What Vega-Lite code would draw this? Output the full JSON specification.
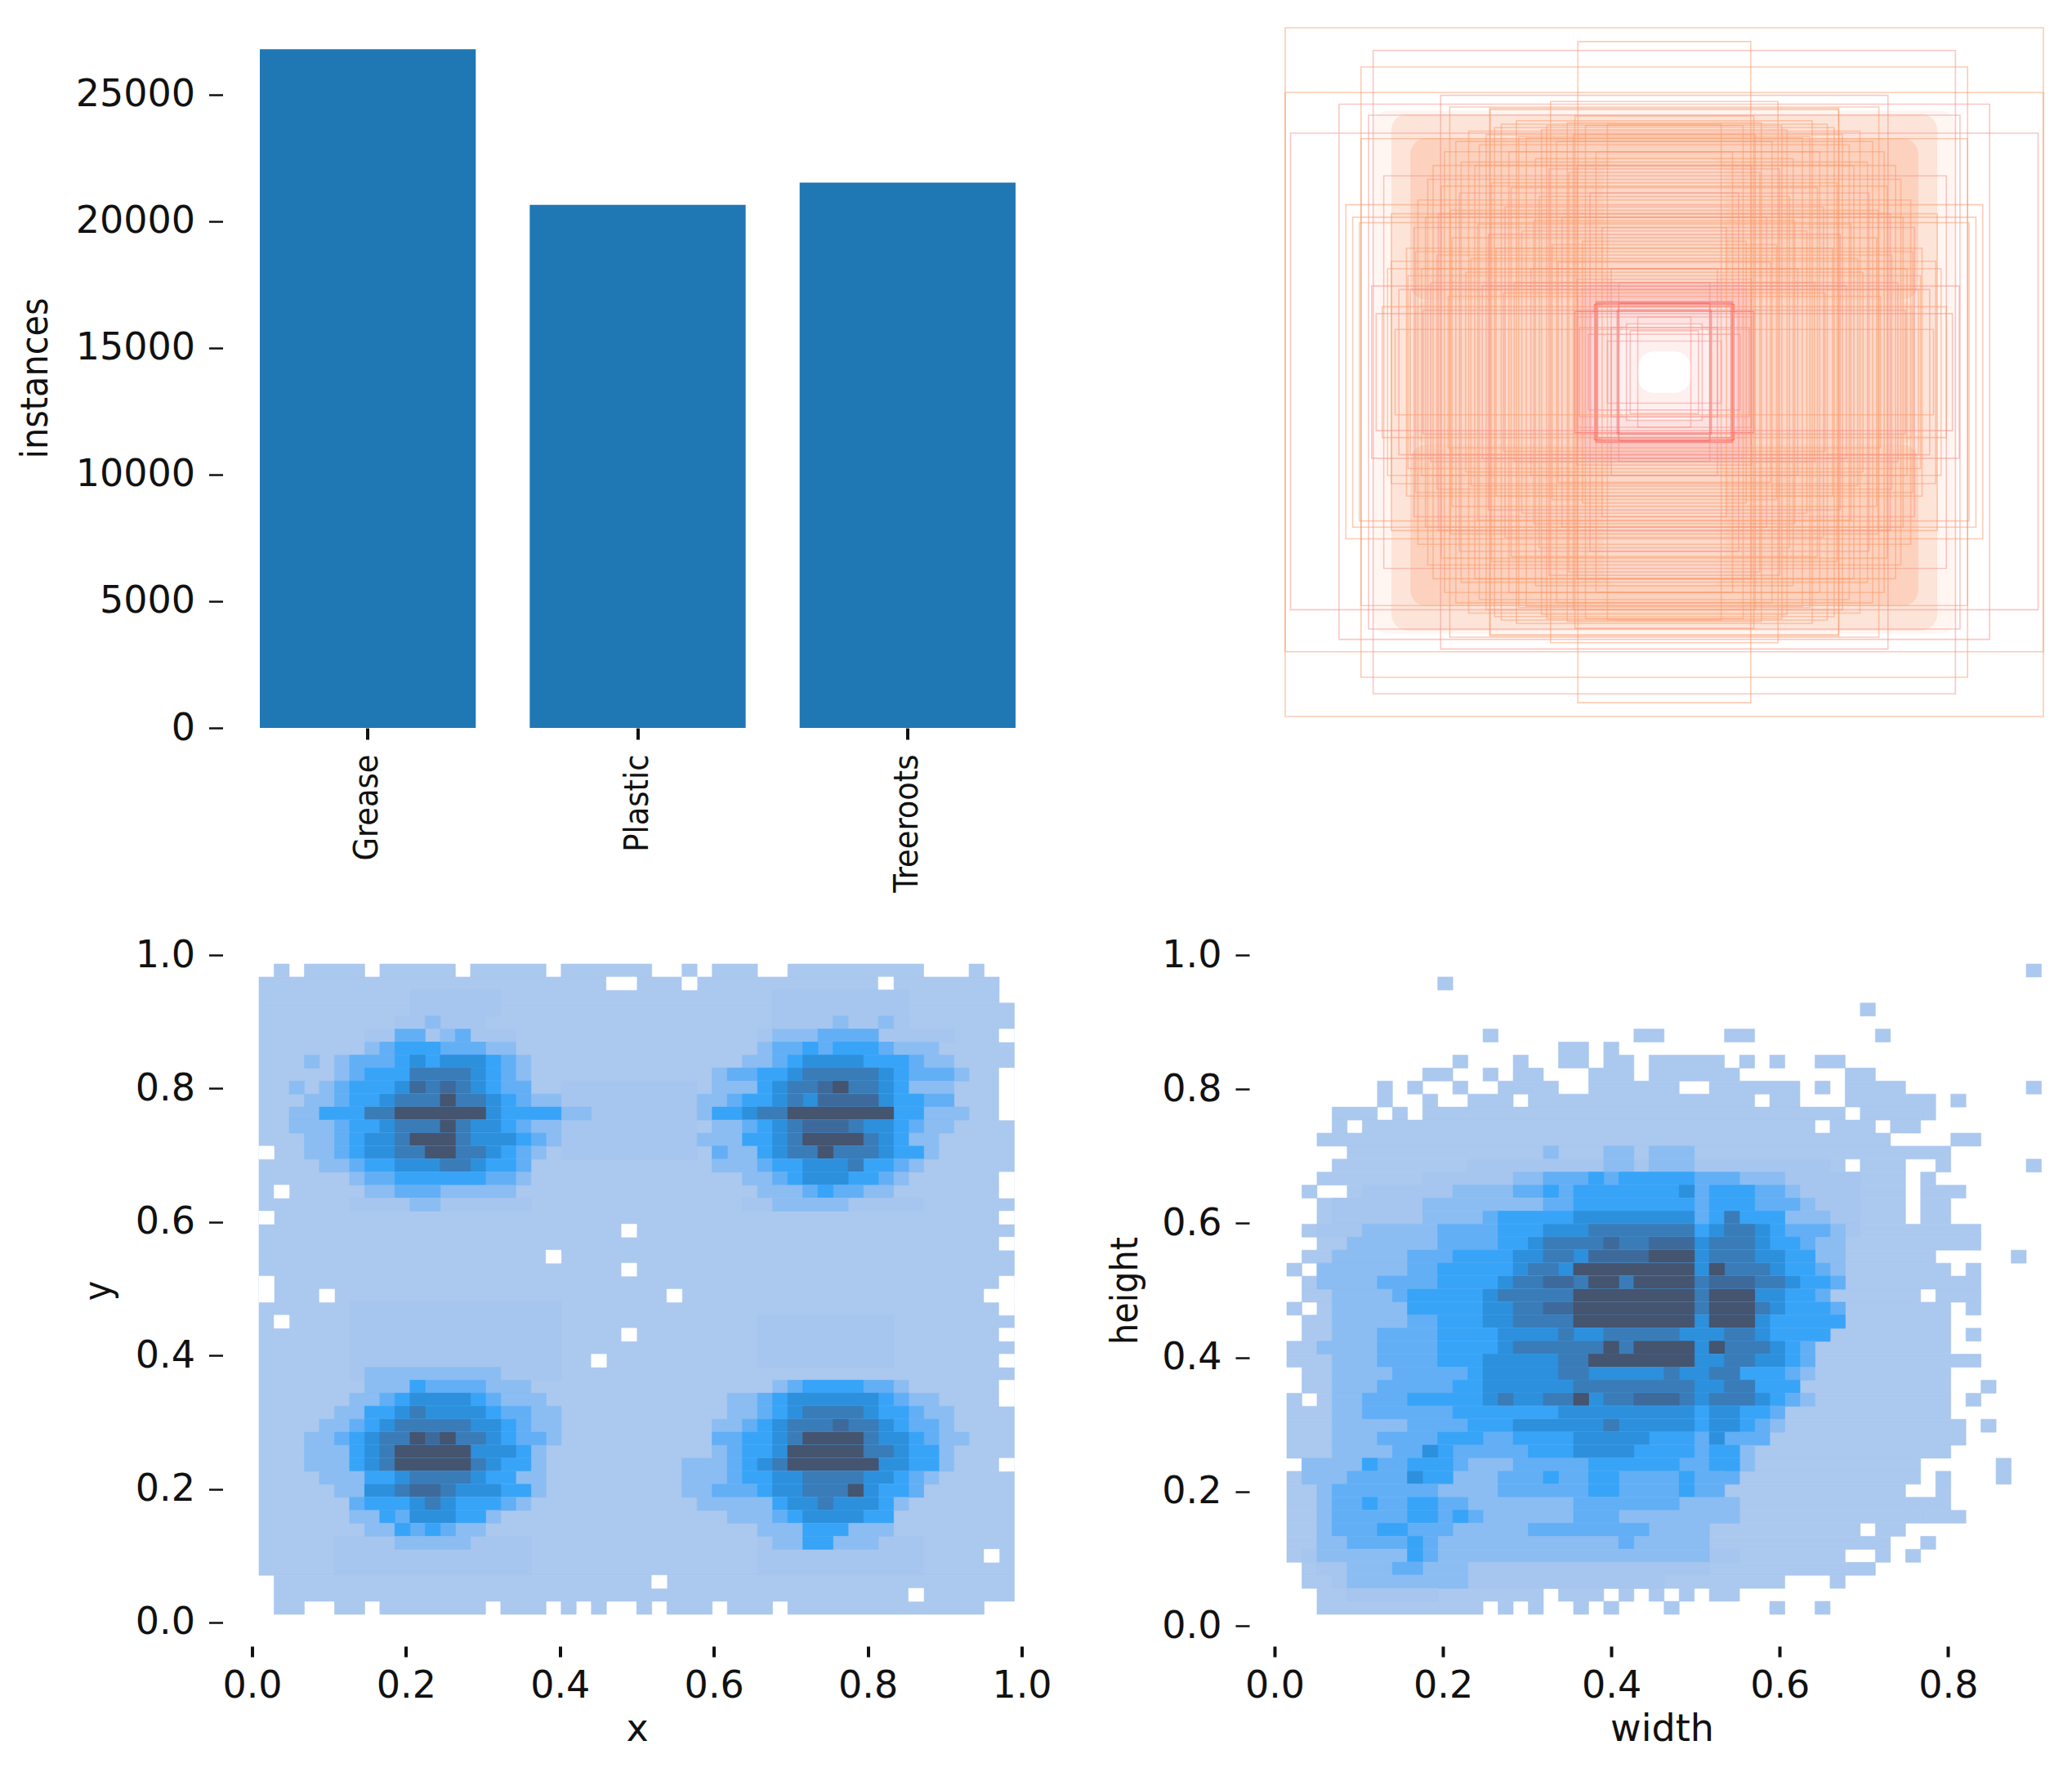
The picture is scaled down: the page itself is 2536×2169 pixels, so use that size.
{"$schema":"https://vega.github.io/schema/vega-lite/v6.json","background":"white","padding":{"left":19.5,"top":33,"right":0,"bottom":24},"columns":2,"spacing":{"row":278,"column":309.5},"bounds":"flush","config":{"view":{"stroke":null},"axis":{"grid":false,"domain":false,"tickColor":"#111","labelColor":"#111","titleColor":"#111","labelFont":"DejaVu Sans","labelFontSize":46,"titleFontWeight":"normal","labelFlush":false,"labelOverlap":false}},
"datasets":{"xy":[
{"i":0,"e":50,"j":3,"k":47,"c":1},{"i":0,"e":49,"j":1,"k":3,"c":1},{"i":1,"e":50,"j":47,"k":49,"c":1},
{"i":1,"e":2,"j":0,"k":1,"c":1},{"i":3,"e":7,"j":0,"k":1,"c":1},{"i":8,"e":13,"j":0,"k":1,"c":1},{"i":14,"e":19,"j":0,"k":1,"c":1},{"i":20,"e":26,"j":0,"k":1,"c":1},{"i":28,"e":29,"j":0,"k":1,"c":1},{"i":30,"e":33,"j":0,"k":1,"c":1},{"i":35,"e":44,"j":0,"k":1,"c":1},{"i":47,"e":48,"j":0,"k":1,"c":1},
{"i":1,"e":3,"j":49,"k":50,"c":1},{"i":5,"e":7,"j":49,"k":50,"c":1},{"i":8,"e":15,"j":49,"k":50,"c":1},{"i":16,"e":19,"j":49,"k":50,"c":1},{"i":20,"e":21,"j":49,"k":50,"c":1},{"i":22,"e":23,"j":49,"k":50,"c":1},{"i":25,"e":26,"j":49,"k":50,"c":1},{"i":27,"e":30,"j":49,"k":50,"c":1},{"i":31,"e":34,"j":49,"k":50,"c":1},{"i":35,"e":48,"j":49,"k":50,"c":1},
{"i":23,"e":25,"j":1,"k":2,"c":0},{"i":28,"e":29,"j":1,"k":2,"c":0},{"i":41,"e":42,"j":1,"k":2,"c":0},{"i":49,"e":50,"j":5,"k":6,"c":0},{"i":49,"e":50,"j":8,"k":12,"c":0},{"i":0,"e":1,"j":14,"k":15,"c":0},{"i":49,"e":50,"j":16,"k":18,"c":0},{"i":1,"e":2,"j":17,"k":18,"c":0},{"i":0,"e":1,"j":19,"k":20,"c":0},{"i":49,"e":50,"j":19,"k":20,"c":0},{"i":24,"e":25,"j":20,"k":21,"c":0},{"i":49,"e":50,"j":21,"k":22,"c":0},{"i":19,"e":20,"j":22,"k":23,"c":0},{"i":24,"e":25,"j":23,"k":24,"c":0},{"i":0,"e":1,"j":24,"k":26,"c":0},{"i":49,"e":50,"j":24,"k":25,"c":0},{"i":48,"e":50,"j":25,"k":26,"c":0},{"i":4,"e":5,"j":25,"k":26,"c":0},{"i":27,"e":28,"j":25,"k":26,"c":0},{"i":49,"e":50,"j":26,"k":27,"c":0},{"i":1,"e":2,"j":27,"k":28,"c":0},{"i":24,"e":25,"j":28,"k":29,"c":0},{"i":49,"e":50,"j":28,"k":29,"c":0},{"i":22,"e":23,"j":30,"k":31,"c":0},{"i":49,"e":50,"j":30,"k":31,"c":0},{"i":49,"e":50,"j":32,"k":34,"c":0},{"i":49,"e":50,"j":38,"k":39,"c":0},{"i":48,"e":49,"j":45,"k":46,"c":0},{"i":26,"e":27,"j":47,"k":48,"c":0},{"i":43,"e":44,"j":48,"k":49,"c":0},
{"i":10,"e":16,"j":2,"k":4,"c":2},{"i":34,"e":43,"j":2,"k":5,"c":2},{"i":6,"e":20,"j":26,"k":32,"c":2},{"i":33,"e":42,"j":27,"k":31,"c":2},{"i":5,"e":18,"j":44,"k":47,"c":2},{"i":33,"e":44,"j":44,"k":47,"c":2},{"i":20,"e":29,"j":9,"k":15,"c":2},{"i":9,"e":15,"j":4,"k":5,"c":2},{"i":11,"e":12,"j":4,"k":5,"c":3},
{"i":7,"e":17,"j":5,"k":6,"c":2},{"i":9,"e":11,"j":5,"k":6,"c":4},{"i":12,"e":13,"j":5,"k":6,"c":3},{"i":13,"e":14,"j":5,"k":6,"c":4},
{"i":7,"e":17,"j":6,"k":7,"c":3},{"i":8,"e":15,"j":6,"k":7,"c":4},{"i":9,"e":12,"j":6,"k":7,"c":5},
{"i":3,"e":4,"j":7,"k":8,"c":3},{"i":5,"e":18,"j":7,"k":8,"c":3},{"i":6,"e":17,"j":7,"k":8,"c":4},{"i":9,"e":16,"j":7,"k":8,"c":5},{"i":10,"e":11,"j":7,"k":8,"c":6},{"i":12,"e":15,"j":7,"k":8,"c":6},
{"i":5,"e":18,"j":8,"k":9,"c":3},{"i":6,"e":17,"j":8,"k":9,"c":4},{"i":7,"e":16,"j":8,"k":9,"c":5},{"i":10,"e":15,"j":8,"k":9,"c":6},{"i":10,"e":14,"j":8,"k":9,"c":7},
{"i":2,"e":3,"j":9,"k":10,"c":3},{"i":4,"e":18,"j":9,"k":10,"c":3},{"i":5,"e":18,"j":9,"k":10,"c":4},{"i":6,"e":16,"j":9,"k":10,"c":5},{"i":9,"e":15,"j":9,"k":10,"c":6},{"i":10,"e":14,"j":9,"k":10,"c":7},{"i":10,"e":11,"j":9,"k":10,"c":8},{"i":12,"e":13,"j":9,"k":10,"c":8},
{"i":3,"e":20,"j":10,"k":11,"c":3},{"i":5,"e":18,"j":10,"k":11,"c":4},{"i":6,"e":17,"j":10,"k":11,"c":5},{"i":8,"e":16,"j":10,"k":11,"c":6},{"i":9,"e":15,"j":10,"k":11,"c":7},{"i":12,"e":13,"j":10,"k":11,"c":9},
{"i":2,"e":22,"j":11,"k":12,"c":3},{"i":4,"e":20,"j":11,"k":12,"c":5},{"i":15,"e":16,"j":11,"k":12,"c":6},{"i":7,"e":15,"j":11,"k":12,"c":7},{"i":9,"e":15,"j":11,"k":12,"c":9},
{"i":2,"e":20,"j":12,"k":13,"c":3},{"i":5,"e":18,"j":12,"k":13,"c":4},{"i":6,"e":17,"j":12,"k":13,"c":5},{"i":8,"e":16,"j":12,"k":13,"c":6},{"i":9,"e":14,"j":12,"k":13,"c":7},{"i":12,"e":13,"j":12,"k":13,"c":9},
{"i":3,"e":20,"j":13,"k":14,"c":3},{"i":5,"e":19,"j":13,"k":14,"c":4},{"i":6,"e":18,"j":13,"k":14,"c":5},{"i":7,"e":17,"j":13,"k":14,"c":6},{"i":9,"e":14,"j":13,"k":14,"c":7},{"i":10,"e":13,"j":13,"k":14,"c":9},
{"i":3,"e":19,"j":14,"k":15,"c":3},{"i":5,"e":18,"j":14,"k":15,"c":4},{"i":6,"e":17,"j":14,"k":15,"c":5},{"i":7,"e":16,"j":14,"k":15,"c":6},{"i":9,"e":15,"j":14,"k":15,"c":7},{"i":11,"e":13,"j":14,"k":15,"c":9},
{"i":4,"e":18,"j":15,"k":16,"c":3},{"i":6,"e":18,"j":15,"k":16,"c":4},{"i":7,"e":17,"j":15,"k":16,"c":5},{"i":9,"e":15,"j":15,"k":16,"c":6},{"i":12,"e":14,"j":15,"k":16,"c":7},
{"i":6,"e":18,"j":16,"k":17,"c":3},{"i":7,"e":17,"j":16,"k":17,"c":4},{"i":9,"e":15,"j":16,"k":17,"c":5},
{"i":7,"e":17,"j":17,"k":18,"c":3},{"i":9,"e":12,"j":17,"k":18,"c":4},{"i":6,"e":18,"j":18,"k":19,"c":2},{"i":10,"e":12,"j":18,"k":19,"c":3},
{"i":34,"e":43,"j":4,"k":5,"c":2},{"i":38,"e":39,"j":4,"k":5,"c":3},{"i":41,"e":42,"j":4,"k":5,"c":3},
{"i":33,"e":46,"j":5,"k":6,"c":2},{"i":34,"e":41,"j":5,"k":6,"c":3},{"i":37,"e":41,"j":5,"k":6,"c":4},
{"i":33,"e":45,"j":6,"k":7,"c":3},{"i":34,"e":42,"j":6,"k":7,"c":4},{"i":36,"e":37,"j":6,"k":7,"c":5},{"i":38,"e":41,"j":6,"k":7,"c":5},
{"i":32,"e":46,"j":7,"k":8,"c":3},{"i":34,"e":44,"j":7,"k":8,"c":4},{"i":35,"e":43,"j":7,"k":8,"c":5},{"i":36,"e":40,"j":7,"k":8,"c":6},
{"i":30,"e":47,"j":8,"k":9,"c":3},{"i":31,"e":46,"j":8,"k":9,"c":4},{"i":33,"e":43,"j":8,"k":9,"c":5},{"i":35,"e":42,"j":8,"k":9,"c":6},{"i":36,"e":41,"j":8,"k":9,"c":7},
{"i":30,"e":46,"j":9,"k":10,"c":3},{"i":33,"e":43,"j":9,"k":10,"c":5},{"i":34,"e":42,"j":9,"k":10,"c":6},{"i":35,"e":41,"j":9,"k":10,"c":7},{"i":37,"e":38,"j":9,"k":10,"c":8},{"i":38,"e":39,"j":9,"k":10,"c":9},
{"i":29,"e":46,"j":10,"k":11,"c":3},{"i":31,"e":46,"j":10,"k":11,"c":4},{"i":32,"e":44,"j":10,"k":11,"c":5},{"i":34,"e":42,"j":10,"k":11,"c":6},{"i":35,"e":36,"j":10,"k":11,"c":7},{"i":37,"e":41,"j":10,"k":11,"c":8},
{"i":29,"e":47,"j":11,"k":12,"c":3},{"i":30,"e":44,"j":11,"k":12,"c":5},{"i":32,"e":42,"j":11,"k":12,"c":6},{"i":33,"e":42,"j":11,"k":12,"c":7},{"i":35,"e":42,"j":11,"k":12,"c":9},
{"i":30,"e":46,"j":12,"k":13,"c":3},{"i":32,"e":44,"j":12,"k":13,"c":4},{"i":33,"e":43,"j":12,"k":13,"c":5},{"i":34,"e":42,"j":12,"k":13,"c":6},{"i":35,"e":40,"j":12,"k":13,"c":7},{"i":36,"e":39,"j":12,"k":13,"c":8},
{"i":29,"e":45,"j":13,"k":14,"c":3},{"i":32,"e":43,"j":13,"k":14,"c":5},{"i":34,"e":42,"j":13,"k":14,"c":6},{"i":35,"e":41,"j":13,"k":14,"c":7},{"i":36,"e":40,"j":13,"k":14,"c":9},
{"i":30,"e":45,"j":14,"k":15,"c":3},{"i":30,"e":31,"j":14,"k":15,"c":4},{"i":33,"e":44,"j":14,"k":15,"c":5},{"i":34,"e":42,"j":14,"k":15,"c":6},{"i":35,"e":41,"j":14,"k":15,"c":7},{"i":37,"e":38,"j":14,"k":15,"c":9},
{"i":30,"e":44,"j":15,"k":16,"c":3},{"i":33,"e":43,"j":15,"k":16,"c":4},{"i":34,"e":42,"j":15,"k":16,"c":5},{"i":36,"e":40,"j":15,"k":16,"c":6},{"i":39,"e":40,"j":15,"k":16,"c":7},
{"i":32,"e":43,"j":16,"k":17,"c":3},{"i":34,"e":42,"j":16,"k":17,"c":4},{"i":35,"e":41,"j":16,"k":17,"c":5},{"i":36,"e":39,"j":16,"k":17,"c":6},
{"i":33,"e":42,"j":17,"k":18,"c":3},{"i":36,"e":40,"j":17,"k":18,"c":4},{"i":37,"e":38,"j":17,"k":18,"c":5},{"i":32,"e":44,"j":18,"k":19,"c":2},{"i":34,"e":39,"j":18,"k":19,"c":3},
{"i":7,"e":16,"j":31,"k":32,"c":3},
{"i":7,"e":18,"j":32,"k":33,"c":3},{"i":10,"e":15,"j":32,"k":33,"c":4},{"i":10,"e":11,"j":32,"k":33,"c":5},
{"i":6,"e":19,"j":33,"k":34,"c":3},{"i":8,"e":16,"j":33,"k":34,"c":4},{"i":9,"e":15,"j":33,"k":34,"c":5},{"i":10,"e":14,"j":33,"k":34,"c":6},
{"i":5,"e":20,"j":34,"k":35,"c":3},{"i":7,"e":18,"j":34,"k":35,"c":4},{"i":7,"e":16,"j":34,"k":35,"c":5},{"i":9,"e":15,"j":34,"k":35,"c":6},{"i":10,"e":11,"j":34,"k":35,"c":7},
{"i":4,"e":20,"j":35,"k":36,"c":3},{"i":6,"e":18,"j":35,"k":36,"c":4},{"i":7,"e":17,"j":35,"k":36,"c":5},{"i":8,"e":16,"j":35,"k":36,"c":6},{"i":9,"e":14,"j":35,"k":36,"c":7},
{"i":3,"e":20,"j":36,"k":37,"c":3},{"i":5,"e":19,"j":36,"k":37,"c":4},{"i":6,"e":17,"j":36,"k":37,"c":5},{"i":7,"e":16,"j":36,"k":37,"c":6},{"i":8,"e":15,"j":36,"k":37,"c":7},{"i":10,"e":11,"j":36,"k":37,"c":9},{"i":11,"e":12,"j":36,"k":37,"c":8},{"i":12,"e":13,"j":36,"k":37,"c":9},
{"i":3,"e":19,"j":37,"k":38,"c":3},{"i":6,"e":18,"j":37,"k":38,"c":5},{"i":7,"e":17,"j":37,"k":38,"c":6},{"i":8,"e":14,"j":37,"k":38,"c":7},{"i":9,"e":14,"j":37,"k":38,"c":9},
{"i":3,"e":19,"j":38,"k":39,"c":3},{"i":6,"e":18,"j":38,"k":39,"c":5},{"i":7,"e":16,"j":38,"k":39,"c":6},{"i":8,"e":15,"j":38,"k":39,"c":7},{"i":9,"e":14,"j":38,"k":39,"c":9},
{"i":4,"e":19,"j":39,"k":40,"c":3},{"i":7,"e":17,"j":39,"k":40,"c":5},{"i":9,"e":15,"j":39,"k":40,"c":6},{"i":10,"e":14,"j":39,"k":40,"c":7},
{"i":5,"e":19,"j":40,"k":41,"c":3},{"i":7,"e":18,"j":40,"k":41,"c":5},{"i":7,"e":16,"j":40,"k":41,"c":6},{"i":9,"e":13,"j":40,"k":41,"c":7},{"i":10,"e":12,"j":40,"k":41,"c":8},
{"i":6,"e":18,"j":41,"k":42,"c":3},{"i":6,"e":17,"j":41,"k":42,"c":4},{"i":7,"e":16,"j":41,"k":42,"c":5},{"i":10,"e":13,"j":41,"k":42,"c":6},{"i":11,"e":12,"j":41,"k":42,"c":7},
{"i":6,"e":16,"j":42,"k":43,"c":3},{"i":8,"e":15,"j":42,"k":43,"c":4},{"i":8,"e":9,"j":42,"k":43,"c":5},{"i":10,"e":15,"j":42,"k":43,"c":5},{"i":10,"e":13,"j":42,"k":43,"c":6},
{"i":7,"e":15,"j":43,"k":44,"c":3},{"i":9,"e":13,"j":43,"k":44,"c":4},{"i":9,"e":10,"j":43,"k":44,"c":5},{"i":11,"e":12,"j":43,"k":44,"c":5},{"i":9,"e":14,"j":44,"k":45,"c":3},
{"i":34,"e":43,"j":32,"k":33,"c":3},{"i":35,"e":42,"j":32,"k":33,"c":4},{"i":36,"e":40,"j":32,"k":33,"c":5},
{"i":31,"e":45,"j":33,"k":34,"c":3},{"i":33,"e":43,"j":33,"k":34,"c":4},{"i":34,"e":42,"j":33,"k":34,"c":5},{"i":35,"e":41,"j":33,"k":34,"c":6},
{"i":31,"e":46,"j":34,"k":35,"c":3},{"i":33,"e":44,"j":34,"k":35,"c":4},{"i":34,"e":43,"j":34,"k":35,"c":5},{"i":35,"e":41,"j":34,"k":35,"c":6},{"i":36,"e":40,"j":34,"k":35,"c":7},
{"i":30,"e":46,"j":35,"k":36,"c":3},{"i":32,"e":45,"j":35,"k":36,"c":4},{"i":33,"e":43,"j":35,"k":36,"c":5},{"i":34,"e":42,"j":35,"k":36,"c":6},{"i":35,"e":41,"j":35,"k":36,"c":7},{"i":38,"e":39,"j":35,"k":36,"c":8},
{"i":30,"e":47,"j":36,"k":37,"c":3},{"i":30,"e":45,"j":36,"k":37,"c":4},{"i":32,"e":44,"j":36,"k":37,"c":5},{"i":34,"e":43,"j":36,"k":37,"c":6},{"i":35,"e":41,"j":36,"k":37,"c":7},{"i":36,"e":40,"j":36,"k":37,"c":9},
{"i":30,"e":46,"j":37,"k":38,"c":3},{"i":31,"e":45,"j":37,"k":38,"c":4},{"i":32,"e":45,"j":37,"k":38,"c":5},{"i":34,"e":43,"j":37,"k":38,"c":6},{"i":35,"e":42,"j":37,"k":38,"c":7},{"i":35,"e":40,"j":37,"k":38,"c":9},
{"i":28,"e":46,"j":38,"k":39,"c":3},{"i":31,"e":45,"j":38,"k":39,"c":4},{"i":32,"e":45,"j":38,"k":39,"c":5},{"i":33,"e":43,"j":38,"k":39,"c":6},{"i":34,"e":41,"j":38,"k":39,"c":7},{"i":35,"e":41,"j":38,"k":39,"c":9},
{"i":28,"e":45,"j":39,"k":40,"c":3},{"i":31,"e":44,"j":39,"k":40,"c":4},{"i":32,"e":43,"j":39,"k":40,"c":5},{"i":34,"e":42,"j":39,"k":40,"c":6},{"i":36,"e":40,"j":39,"k":40,"c":7},
{"i":28,"e":44,"j":40,"k":41,"c":3},{"i":30,"e":44,"j":40,"k":41,"c":4},{"i":33,"e":43,"j":40,"k":41,"c":5},{"i":34,"e":41,"j":40,"k":41,"c":6},{"i":36,"e":40,"j":40,"k":41,"c":7},{"i":39,"e":40,"j":40,"k":41,"c":9},
{"i":29,"e":43,"j":41,"k":42,"c":3},{"i":34,"e":42,"j":41,"k":42,"c":5},{"i":35,"e":41,"j":41,"k":42,"c":6},{"i":37,"e":38,"j":41,"k":42,"c":7},
{"i":31,"e":42,"j":42,"k":43,"c":3},{"i":34,"e":41,"j":42,"k":43,"c":4},{"i":35,"e":42,"j":42,"k":43,"c":5},{"i":36,"e":40,"j":42,"k":43,"c":6},
{"i":33,"e":42,"j":43,"k":44,"c":3},{"i":36,"e":39,"j":43,"k":44,"c":5},{"i":34,"e":41,"j":44,"k":45,"c":3},{"i":36,"e":38,"j":44,"k":45,"c":5}
],
"wh":[
{"i":49,"e":50,"j":0,"k":1,"c":1},{"i":10,"e":11,"j":1,"k":2,"c":1},{"i":38,"e":39,"j":3,"k":4,"c":1},
{"i":13,"e":14,"j":5,"k":6,"c":1},{"i":23,"e":25,"j":5,"k":6,"c":1},{"i":29,"e":31,"j":5,"k":6,"c":1},{"i":39,"e":40,"j":5,"k":6,"c":1},
{"i":18,"e":20,"j":6,"k":8,"c":1},{"i":21,"e":22,"j":6,"k":7,"c":1},
{"i":11,"e":12,"j":7,"k":8,"c":1},{"i":15,"e":16,"j":7,"k":8,"c":1},{"i":21,"e":23,"j":7,"k":8,"c":1},{"i":24,"e":29,"j":7,"k":8,"c":1},{"i":30,"e":31,"j":7,"k":8,"c":1},{"i":32,"e":33,"j":7,"k":8,"c":1},{"i":35,"e":37,"j":7,"k":8,"c":1},
{"i":9,"e":11,"j":8,"k":9,"c":1},{"i":13,"e":14,"j":8,"k":9,"c":1},{"i":15,"e":17,"j":8,"k":9,"c":1},{"i":20,"e":23,"j":8,"k":9,"c":1},{"i":24,"e":30,"j":8,"k":9,"c":1},{"i":37,"e":39,"j":8,"k":9,"c":1},
{"i":6,"e":7,"j":9,"k":11,"c":1},{"i":8,"e":9,"j":9,"k":10,"c":1},{"i":11,"e":12,"j":9,"k":10,"c":1},{"i":14,"e":18,"j":9,"k":10,"c":1},{"i":20,"e":26,"j":9,"k":10,"c":1},{"i":28,"e":34,"j":9,"k":10,"c":1},{"i":35,"e":36,"j":9,"k":10,"c":1},{"i":37,"e":41,"j":9,"k":10,"c":1},{"i":49,"e":50,"j":9,"k":10,"c":1},
{"i":9,"e":10,"j":10,"k":11,"c":1},{"i":12,"e":15,"j":10,"k":11,"c":1},{"i":16,"e":31,"j":10,"k":11,"c":1},{"i":32,"e":34,"j":10,"k":11,"c":1},{"i":37,"e":43,"j":10,"k":11,"c":1},{"i":44,"e":45,"j":10,"k":11,"c":1},
{"i":3,"e":6,"j":11,"k":12,"c":1},{"i":7,"e":8,"j":11,"k":12,"c":1},{"i":9,"e":12,"j":11,"k":12,"c":1},{"i":12,"e":37,"j":11,"k":12,"c":1},{"i":38,"e":42,"j":11,"k":12,"c":1},{"i":42,"e":43,"j":11,"k":12,"c":1},
{"i":3,"e":4,"j":12,"k":13,"c":1},{"i":5,"e":35,"j":12,"k":13,"c":1},{"i":36,"e":39,"j":12,"k":13,"c":1},{"i":40,"e":42,"j":12,"k":13,"c":1},
{"i":2,"e":40,"j":13,"k":14,"c":1},{"i":44,"e":46,"j":13,"k":14,"c":1},{"i":4,"e":44,"j":14,"k":15,"c":1},
{"i":3,"e":37,"j":15,"k":16,"c":1},{"i":38,"e":41,"j":15,"k":16,"c":1},{"i":43,"e":44,"j":15,"k":16,"c":1},{"i":49,"e":50,"j":15,"k":16,"c":1},
{"i":2,"e":41,"j":16,"k":17,"c":1},{"i":42,"e":43,"j":16,"k":17,"c":1},
{"i":1,"e":2,"j":17,"k":18,"c":1},{"i":4,"e":41,"j":17,"k":18,"c":1},{"i":42,"e":45,"j":17,"k":18,"c":1},
{"i":2,"e":41,"j":18,"k":19,"c":1},{"i":42,"e":44,"j":18,"k":19,"c":1},{"i":2,"e":41,"j":19,"k":20,"c":1},{"i":42,"e":44,"j":19,"k":20,"c":1},
{"i":1,"e":46,"j":20,"k":21,"c":1},{"i":2,"e":45,"j":21,"k":22,"c":1},{"i":45,"e":46,"j":21,"k":22,"c":1},
{"i":1,"e":43,"j":22,"k":23,"c":1},{"i":48,"e":49,"j":22,"k":23,"c":1},
{"i":0,"e":1,"j":23,"k":24,"c":1},{"i":2,"e":44,"j":23,"k":24,"c":1},{"i":45,"e":46,"j":23,"k":24,"c":1},
{"i":1,"e":46,"j":24,"k":25,"c":1},{"i":1,"e":42,"j":25,"k":26,"c":1},{"i":43,"e":46,"j":25,"k":26,"c":1},
{"i":0,"e":1,"j":26,"k":27,"c":1},{"i":2,"e":44,"j":26,"k":27,"c":1},{"i":45,"e":46,"j":26,"k":27,"c":1},
{"i":1,"e":44,"j":27,"k":28,"c":1},{"i":1,"e":44,"j":28,"k":29,"c":1},{"i":45,"e":46,"j":28,"k":29,"c":1},
{"i":0,"e":44,"j":29,"k":30,"c":1},{"i":0,"e":46,"j":30,"k":31,"c":1},{"i":1,"e":44,"j":31,"k":32,"c":1},{"i":1,"e":44,"j":32,"k":33,"c":1},{"i":46,"e":47,"j":32,"k":33,"c":1},
{"i":0,"e":1,"j":33,"k":34,"c":1},{"i":2,"e":44,"j":33,"k":34,"c":1},{"i":45,"e":46,"j":33,"k":34,"c":1},
{"i":0,"e":44,"j":34,"k":35,"c":1},{"i":0,"e":45,"j":35,"k":37,"c":1},{"i":46,"e":47,"j":35,"k":36,"c":1},{"i":0,"e":44,"j":37,"k":38,"c":1},
{"i":1,"e":42,"j":38,"k":39,"c":1},{"i":47,"e":48,"j":38,"k":40,"c":1},{"i":0,"e":42,"j":39,"k":40,"c":1},{"i":43,"e":44,"j":39,"k":41,"c":1},
{"i":0,"e":41,"j":40,"k":41,"c":1},{"i":0,"e":41,"j":41,"k":42,"c":1},{"i":41,"e":44,"j":41,"k":42,"c":1},
{"i":0,"e":42,"j":42,"k":43,"c":1},{"i":42,"e":45,"j":42,"k":43,"c":1},{"i":0,"e":38,"j":43,"k":44,"c":1},{"i":39,"e":41,"j":43,"k":44,"c":1},
{"i":0,"e":40,"j":44,"k":45,"c":1},{"i":42,"e":43,"j":44,"k":45,"c":1},{"i":0,"e":37,"j":45,"k":46,"c":1},{"i":39,"e":40,"j":45,"k":46,"c":1},{"i":41,"e":42,"j":45,"k":46,"c":1},
{"i":1,"e":39,"j":46,"k":47,"c":1},{"i":1,"e":33,"j":47,"k":48,"c":1},{"i":36,"e":37,"j":47,"k":48,"c":1},
{"i":2,"e":17,"j":48,"k":49,"c":1},{"i":18,"e":21,"j":48,"k":49,"c":1},{"i":22,"e":23,"j":48,"k":49,"c":1},{"i":24,"e":25,"j":48,"k":49,"c":1},{"i":26,"e":27,"j":48,"k":49,"c":1},{"i":28,"e":30,"j":48,"k":49,"c":1},
{"i":2,"e":13,"j":49,"k":50,"c":1},{"i":14,"e":15,"j":49,"k":50,"c":1},{"i":16,"e":17,"j":49,"k":50,"c":1},{"i":19,"e":20,"j":49,"k":50,"c":1},{"i":21,"e":22,"j":49,"k":50,"c":1},{"i":25,"e":26,"j":49,"k":50,"c":1},{"i":32,"e":33,"j":49,"k":50,"c":1},{"i":35,"e":36,"j":49,"k":50,"c":1},
{"i":21,"e":23,"j":14,"k":15,"c":3},{"i":24,"e":27,"j":14,"k":15,"c":3},{"i":17,"e":18,"j":14,"k":15,"c":3},
{"i":12,"e":36,"j":15,"k":16,"c":2},{"i":21,"e":23,"j":15,"k":16,"c":3},{"i":24,"e":27,"j":15,"k":16,"c":3},
{"i":9,"e":38,"j":16,"k":17,"c":2},{"i":15,"e":33,"j":16,"k":17,"c":3},{"i":17,"e":30,"j":16,"k":17,"c":4},{"i":20,"e":21,"j":16,"k":17,"c":5},{"i":22,"e":27,"j":16,"k":17,"c":5},
{"i":5,"e":38,"j":17,"k":18,"c":2},{"i":11,"e":34,"j":17,"k":18,"c":3},{"i":15,"e":33,"j":17,"k":18,"c":4},{"i":17,"e":18,"j":17,"k":18,"c":5},{"i":19,"e":27,"j":17,"k":18,"c":5},{"i":28,"e":31,"j":17,"k":18,"c":5},{"i":26,"e":27,"j":17,"k":18,"c":6},
{"i":3,"e":38,"j":18,"k":19,"c":2},{"i":9,"e":35,"j":18,"k":19,"c":3},{"i":17,"e":34,"j":18,"k":19,"c":4},{"i":19,"e":27,"j":18,"k":19,"c":5},{"i":28,"e":31,"j":18,"k":19,"c":5},
{"i":3,"e":38,"j":19,"k":20,"c":2},{"i":9,"e":36,"j":19,"k":20,"c":3},{"i":13,"e":33,"j":19,"k":20,"c":4},{"i":14,"e":27,"j":19,"k":20,"c":5},{"i":28,"e":33,"j":19,"k":20,"c":5},{"i":19,"e":27,"j":19,"k":20,"c":6},{"i":29,"e":30,"j":19,"k":20,"c":7},
{"i":2,"e":38,"j":20,"k":21,"c":2},{"i":5,"e":37,"j":20,"k":21,"c":3},{"i":10,"e":36,"j":20,"k":21,"c":4},{"i":14,"e":33,"j":20,"k":21,"c":5},{"i":17,"e":27,"j":20,"k":21,"c":6},{"i":28,"e":32,"j":20,"k":21,"c":6},{"i":20,"e":27,"j":20,"k":21,"c":7},{"i":29,"e":31,"j":20,"k":21,"c":7},
{"i":4,"e":37,"j":21,"k":22,"c":3},{"i":10,"e":35,"j":21,"k":22,"c":4},{"i":14,"e":34,"j":21,"k":22,"c":5},{"i":16,"e":32,"j":21,"k":22,"c":6},{"i":17,"e":27,"j":21,"k":22,"c":7},{"i":28,"e":31,"j":21,"k":22,"c":7},{"i":21,"e":22,"j":21,"k":22,"c":8},{"i":24,"e":27,"j":21,"k":22,"c":8},
{"i":3,"e":37,"j":22,"k":23,"c":3},{"i":8,"e":35,"j":22,"k":23,"c":4},{"i":11,"e":35,"j":22,"k":23,"c":5},{"i":15,"e":33,"j":22,"k":23,"c":6},{"i":17,"e":19,"j":22,"k":23,"c":7},{"i":20,"e":27,"j":22,"k":23,"c":8},{"i":24,"e":27,"j":22,"k":23,"c":9},{"i":28,"e":31,"j":22,"k":23,"c":7},
{"i":2,"e":37,"j":23,"k":24,"c":3},{"i":8,"e":36,"j":23,"k":24,"c":4},{"i":10,"e":35,"j":23,"k":24,"c":5},{"i":15,"e":33,"j":23,"k":24,"c":6},{"i":16,"e":18,"j":23,"k":24,"c":7},{"i":19,"e":27,"j":23,"k":24,"c":9},{"i":28,"e":32,"j":23,"k":24,"c":7},{"i":28,"e":29,"j":23,"k":24,"c":9},
{"i":2,"e":37,"j":24,"k":25,"c":3},{"i":6,"e":37,"j":24,"k":25,"c":4},{"i":10,"e":36,"j":24,"k":25,"c":5},{"i":14,"e":34,"j":24,"k":25,"c":6},{"i":15,"e":33,"j":24,"k":25,"c":7},{"i":17,"e":19,"j":24,"k":25,"c":8},{"i":20,"e":22,"j":24,"k":25,"c":9},{"i":23,"e":27,"j":24,"k":25,"c":9},{"i":28,"e":31,"j":24,"k":25,"c":8},
{"i":3,"e":36,"j":25,"k":26,"c":3},{"i":7,"e":36,"j":25,"k":26,"c":4},{"i":8,"e":35,"j":25,"k":26,"c":5},{"i":13,"e":33,"j":25,"k":26,"c":6},{"i":14,"e":31,"j":25,"k":26,"c":7},{"i":19,"e":27,"j":25,"k":26,"c":9},{"i":28,"e":31,"j":25,"k":26,"c":9},
{"i":3,"e":37,"j":26,"k":27,"c":3},{"i":8,"e":37,"j":26,"k":27,"c":4},{"i":8,"e":36,"j":26,"k":27,"c":5},{"i":13,"e":33,"j":26,"k":27,"c":6},{"i":15,"e":32,"j":26,"k":27,"c":7},{"i":17,"e":19,"j":26,"k":27,"c":8},{"i":19,"e":27,"j":26,"k":27,"c":9},{"i":28,"e":31,"j":26,"k":27,"c":9},
{"i":3,"e":36,"j":27,"k":28,"c":3},{"i":8,"e":37,"j":27,"k":28,"c":4},{"i":10,"e":37,"j":27,"k":28,"c":5},{"i":13,"e":32,"j":27,"k":28,"c":6},{"i":15,"e":27,"j":27,"k":28,"c":7},{"i":28,"e":31,"j":27,"k":28,"c":7},{"i":19,"e":27,"j":27,"k":28,"c":9},{"i":28,"e":31,"j":27,"k":28,"c":9},
{"i":3,"e":36,"j":28,"k":29,"c":3},{"i":6,"e":36,"j":28,"k":29,"c":4},{"i":10,"e":36,"j":28,"k":29,"c":5},{"i":14,"e":32,"j":28,"k":29,"c":6},{"i":18,"e":19,"j":28,"k":29,"c":7},{"i":21,"e":26,"j":28,"k":29,"c":7},{"i":29,"e":31,"j":28,"k":29,"c":7},
{"i":2,"e":34,"j":29,"k":30,"c":3},{"i":6,"e":35,"j":29,"k":30,"c":4},{"i":10,"e":34,"j":29,"k":30,"c":5},{"i":14,"e":33,"j":29,"k":30,"c":6},{"i":15,"e":27,"j":29,"k":30,"c":7},{"i":28,"e":32,"j":29,"k":30,"c":7},{"i":21,"e":22,"j":29,"k":30,"c":9},{"i":23,"e":27,"j":29,"k":30,"c":9},{"i":28,"e":29,"j":29,"k":30,"c":9},
{"i":3,"e":35,"j":30,"k":31,"c":3},{"i":6,"e":35,"j":30,"k":31,"c":4},{"i":10,"e":34,"j":30,"k":31,"c":5},{"i":13,"e":33,"j":30,"k":31,"c":6},{"i":18,"e":27,"j":30,"k":31,"c":7},{"i":20,"e":27,"j":30,"k":31,"c":9},{"i":29,"e":31,"j":30,"k":31,"c":7},
{"i":3,"e":35,"j":31,"k":32,"c":3},{"i":7,"e":34,"j":31,"k":32,"c":4},{"i":12,"e":33,"j":31,"k":32,"c":5},{"i":13,"e":30,"j":31,"k":32,"c":6},{"i":18,"e":20,"j":31,"k":32,"c":7},{"i":25,"e":26,"j":31,"k":32,"c":7},{"i":28,"e":30,"j":31,"k":32,"c":7},
{"i":3,"e":33,"j":32,"k":33,"c":3},{"i":6,"e":34,"j":32,"k":33,"c":4},{"i":11,"e":34,"j":32,"k":33,"c":5},{"i":13,"e":31,"j":32,"k":33,"c":6},{"i":19,"e":27,"j":32,"k":33,"c":7},{"i":29,"e":31,"j":32,"k":33,"c":7},
{"i":3,"e":35,"j":33,"k":34,"c":3},{"i":5,"e":34,"j":33,"k":34,"c":4},{"i":8,"e":33,"j":33,"k":34,"c":5},{"i":13,"e":32,"j":33,"k":34,"c":6},{"i":14,"e":15,"j":33,"k":34,"c":7},{"i":17,"e":20,"j":33,"k":34,"c":7},{"i":21,"e":27,"j":33,"k":34,"c":7},{"i":28,"e":31,"j":33,"k":34,"c":7},{"i":19,"e":20,"j":33,"k":34,"c":9},{"i":23,"e":26,"j":33,"k":34,"c":8},
{"i":3,"e":33,"j":34,"k":35,"c":3},{"i":5,"e":33,"j":34,"k":35,"c":4},{"i":11,"e":32,"j":34,"k":35,"c":5},{"i":18,"e":27,"j":34,"k":35,"c":6},{"i":28,"e":30,"j":34,"k":35,"c":6},
{"i":3,"e":33,"j":35,"k":36,"c":3},{"i":8,"e":32,"j":35,"k":36,"c":4},{"i":12,"e":31,"j":35,"k":36,"c":5},{"i":15,"e":27,"j":35,"k":36,"c":6},{"i":28,"e":30,"j":35,"k":36,"c":6},{"i":21,"e":22,"j":35,"k":36,"c":7},
{"i":3,"e":31,"j":36,"k":37,"c":3},{"i":6,"e":32,"j":36,"k":37,"c":4},{"i":10,"e":13,"j":36,"k":37,"c":5},{"i":15,"e":27,"j":36,"k":37,"c":5},{"i":19,"e":24,"j":36,"k":37,"c":6},{"i":28,"e":29,"j":36,"k":37,"c":6},
{"i":3,"e":31,"j":37,"k":38,"c":3},{"i":7,"e":30,"j":37,"k":38,"c":4},{"i":9,"e":11,"j":37,"k":38,"c":5},{"i":9,"e":10,"j":37,"k":38,"c":6},{"i":16,"e":27,"j":37,"k":38,"c":5},{"i":28,"e":30,"j":37,"k":38,"c":5},{"i":19,"e":23,"j":37,"k":38,"c":6},
{"i":1,"e":31,"j":38,"k":39,"c":3},{"i":5,"e":12,"j":38,"k":39,"c":4},{"i":15,"e":30,"j":38,"k":39,"c":4},{"i":5,"e":6,"j":38,"k":39,"c":5},{"i":8,"e":11,"j":38,"k":39,"c":5},{"i":20,"e":26,"j":38,"k":39,"c":5},{"i":28,"e":30,"j":38,"k":39,"c":5},
{"i":1,"e":29,"j":39,"k":40,"c":3},{"i":4,"e":11,"j":39,"k":40,"c":4},{"i":14,"e":30,"j":39,"k":40,"c":4},{"i":8,"e":11,"j":39,"k":40,"c":5},{"i":8,"e":9,"j":39,"k":40,"c":6},{"i":17,"e":18,"j":39,"k":40,"c":5},{"i":20,"e":22,"j":39,"k":40,"c":5},{"i":26,"e":27,"j":39,"k":40,"c":5},
{"i":2,"e":29,"j":40,"k":41,"c":3},{"i":3,"e":10,"j":40,"k":41,"c":4},{"i":14,"e":29,"j":40,"k":41,"c":4},{"i":20,"e":22,"j":40,"k":41,"c":5},{"i":26,"e":27,"j":40,"k":41,"c":5},
{"i":2,"e":30,"j":41,"k":42,"c":3},{"i":3,"e":12,"j":41,"k":42,"c":4},{"i":19,"e":26,"j":41,"k":42,"c":4},{"i":5,"e":6,"j":41,"k":42,"c":5},{"i":8,"e":10,"j":41,"k":42,"c":5},
{"i":2,"e":30,"j":42,"k":43,"c":3},{"i":3,"e":13,"j":42,"k":43,"c":4},{"i":19,"e":22,"j":42,"k":43,"c":4},{"i":8,"e":10,"j":42,"k":43,"c":5},{"i":11,"e":12,"j":42,"k":43,"c":5},
{"i":2,"e":28,"j":43,"k":44,"c":3},{"i":3,"e":11,"j":43,"k":44,"c":4},{"i":16,"e":24,"j":43,"k":44,"c":4},{"i":6,"e":8,"j":43,"k":44,"c":5},
{"i":2,"e":28,"j":44,"k":45,"c":3},{"i":4,"e":10,"j":44,"k":45,"c":4},{"i":22,"e":23,"j":44,"k":45,"c":4},{"i":8,"e":9,"j":44,"k":45,"c":5},
{"i":1,"e":30,"j":45,"k":46,"c":2},{"i":2,"e":28,"j":45,"k":46,"c":3},{"i":8,"e":10,"j":45,"k":46,"c":4},{"i":8,"e":9,"j":45,"k":46,"c":5},
{"i":2,"e":28,"j":46,"k":47,"c":2},{"i":4,"e":12,"j":46,"k":47,"c":3},{"i":7,"e":9,"j":46,"k":47,"c":4},{"i":3,"e":25,"j":47,"k":48,"c":2},{"i":4,"e":12,"j":47,"k":48,"c":3},{"i":4,"e":10,"j":48,"k":49,"c":2}
],
"glow":[{"a":115,"b":885,"t":120,"u":880,"g":"a"},{"a":140,"b":860,"t":125,"u":875,"g":"b"},{"a":165,"b":835,"t":160,"u":395,"g":"c"},{"a":165,"b":835,"t":605,"u":840,"g":"c"},{"a":170,"b":410,"t":395,"u":605,"g":"d"},{"a":590,"b":830,"t":395,"u":605,"g":"d"},{"a":420,"b":580,"t":190,"u":370,"g":"e"},{"a":420,"b":580,"t":630,"u":810,"g":"e"},{"a":385,"b":615,"t":372,"u":628,"g":"f"},{"a":405,"b":595,"t":400,"u":600,"g":"h"},{"a":440,"b":560,"t":430,"u":570,"g":"i"},{"a":465,"b":535,"t":470,"u":530,"g":"j"}],
"boxes":[{"a":0,"b":1000,"t":0,"u":1000,"c":"o"},{"a":386,"b":614,"t":20,"u":980,"c":"o"},{"a":116,"b":884,"t":33,"u":967,"c":"p"},{"a":100,"b":900,"t":57,"u":943,"c":"o"},{"a":0,"b":1000,"t":94,"u":906,"c":"o"},{"a":71,"b":929,"t":111,"u":888,"c":"p"},{"a":205,"b":795,"t":98,"u":902,"c":"p"},{"a":350,"b":650,"t":107,"u":893,"c":"o"},{"a":217,"b":783,"t":115,"u":885,"c":"o"},{"a":270,"b":730,"t":117,"u":883,"c":"o"},{"a":270,"b":730,"t":119,"u":881,"c":"o"},{"a":7,"b":993,"t":153,"u":845,"c":"p"},{"a":110,"b":890,"t":127,"u":873,"c":"p"},{"a":100,"b":900,"t":161,"u":839,"c":"o"},{"a":80,"b":920,"t":257,"u":742,"c":"o"},{"a":89,"b":911,"t":275,"u":725,"c":"o"},{"a":98,"b":902,"t":283,"u":716,"c":"o"},{"a":114,"b":889,"t":375,"u":625,"c":"p"},{"a":140,"b":858,"t":339,"u":662,"c":"o"},{"a":130,"b":872,"t":215,"u":785,"c":"p"},
{"a":410,"b":590,"t":400,"u":600,"c":"r"},{"a":408,"b":592,"t":402,"u":598,"c":"r"},{"a":410,"b":590,"t":398,"u":602,"c":"r"},{"a":412,"b":588,"t":405,"u":595,"c":"r"},{"a":440,"b":560,"t":400,"u":600,"c":"r"},{"a":438,"b":562,"t":410,"u":590,"c":"r"},{"a":430,"b":570,"t":435,"u":565,"c":"p"},{"a":385,"b":615,"t":420,"u":580,"c":"p"},{"a":388,"b":612,"t":435,"u":565,"c":"p"},{"a":385,"b":615,"t":365,"u":635,"c":"p"},{"a":440,"b":560,"t":370,"u":630,"c":"p"},{"a":382,"b":618,"t":412,"u":588,"c":"r"},{"a":400,"b":600,"t":445,"u":555,"c":"p"},{"a":425,"b":575,"t":455,"u":545,"c":"p"},{"a":450,"b":550,"t":430,"u":570,"c":"p"},{"a":455,"b":545,"t":440,"u":560,"c":"p"},{"a":465,"b":535,"t":420,"u":580,"c":"p"},
{"a":160,"b":840,"t":320,"u":680,"c":"o"},{"a":165,"b":835,"t":380,"u":620,"c":"o"},{"a":170,"b":830,"t":290,"u":710,"c":"p"},{"a":175,"b":825,"t":250,"u":750,"c":"o"},{"a":180,"b":820,"t":350,"u":650,"c":"o"},{"a":182,"b":818,"t":410,"u":590,"c":"p"},{"a":188,"b":812,"t":220,"u":780,"c":"o"},{"a":195,"b":805,"t":200,"u":800,"c":"o"},{"a":200,"b":800,"t":330,"u":670,"c":"o"},{"a":202,"b":798,"t":270,"u":730,"c":"p"},{"a":210,"b":790,"t":180,"u":820,"c":"o"},{"a":215,"b":785,"t":390,"u":610,"c":"o"},{"a":220,"b":780,"t":305,"u":695,"c":"o"},{"a":225,"b":775,"t":165,"u":835,"c":"o"},{"a":230,"b":770,"t":240,"u":760,"c":"p"},{"a":238,"b":762,"t":355,"u":645,"c":"o"},{"a":242,"b":758,"t":150,"u":850,"c":"o"},{"a":250,"b":750,"t":200,"u":800,"c":"o"},{"a":254,"b":746,"t":285,"u":715,"c":"o"},{"a":260,"b":740,"t":375,"u":625,"c":"p"},{"a":265,"b":735,"t":155,"u":845,"c":"o"},{"a":272,"b":728,"t":225,"u":775,"c":"o"},{"a":278,"b":722,"t":320,"u":680,"c":"o"},{"a":285,"b":715,"t":140,"u":860,"c":"o"},{"a":290,"b":710,"t":260,"u":740,"c":"p"},{"a":295,"b":705,"t":180,"u":820,"c":"o"},{"a":302,"b":698,"t":370,"u":630,"c":"o"},{"a":305,"b":695,"t":135,"u":865,"c":"o"},{"a":312,"b":688,"t":295,"u":705,"c":"o"},{"a":318,"b":682,"t":160,"u":840,"c":"o"},{"a":324,"b":676,"t":350,"u":650,"c":"p"},{"a":330,"b":670,"t":190,"u":810,"c":"o"},{"a":335,"b":665,"t":245,"u":755,"c":"o"},{"a":345,"b":655,"t":142,"u":858,"c":"o"},{"a":352,"b":648,"t":315,"u":685,"c":"o"},{"a":358,"b":642,"t":165,"u":835,"c":"o"},{"a":365,"b":635,"t":275,"u":725,"c":"p"},{"a":372,"b":628,"t":138,"u":862,"c":"o"},{"a":374,"b":626,"t":210,"u":790,"c":"o"},{"a":380,"b":620,"t":155,"u":845,"c":"o"},{"a":385,"b":615,"t":200,"u":800,"c":"o"},{"a":396,"b":604,"t":142,"u":858,"c":"o"},{"a":402,"b":598,"t":240,"u":760,"c":"p"},{"a":410,"b":590,"t":180,"u":820,"c":"o"},{"a":418,"b":582,"t":290,"u":710,"c":"o"},{"a":425,"b":575,"t":140,"u":860,"c":"o"},{"a":430,"b":570,"t":350,"u":650,"c":"p"},
{"a":162,"b":838,"t":360,"u":640,"c":"o"},{"a":172,"b":828,"t":325,"u":675,"c":"o"},{"a":185,"b":815,"t":275,"u":725,"c":"o"},{"a":192,"b":808,"t":370,"u":630,"c":"p"},{"a":206,"b":794,"t":230,"u":770,"c":"o"},{"a":218,"b":782,"t":265,"u":735,"c":"o"},{"a":232,"b":768,"t":195,"u":805,"c":"o"},{"a":245,"b":755,"t":335,"u":665,"c":"o"},{"a":256,"b":744,"t":170,"u":830,"c":"o"},{"a":268,"b":732,"t":300,"u":700,"c":"p"},{"a":276,"b":724,"t":145,"u":855,"c":"o"},{"a":288,"b":712,"t":385,"u":615,"c":"o"},{"a":298,"b":702,"t":232,"u":768,"c":"o"},{"a":308,"b":692,"t":158,"u":842,"c":"o"},{"a":328,"b":672,"t":280,"u":720,"c":"o"},{"a":338,"b":662,"t":148,"u":852,"c":"o"},{"a":348,"b":652,"t":205,"u":795,"c":"p"},{"a":360,"b":640,"t":340,"u":660,"c":"o"},{"a":382,"b":618,"t":128,"u":872,"c":"o"},{"a":392,"b":608,"t":310,"u":690,"c":"o"},{"a":135,"b":865,"t":350,"u":650,"c":"o"},{"a":150,"b":850,"t":380,"u":620,"c":"p"},{"a":128,"b":872,"t":405,"u":595,"c":"o"},{"a":140,"b":860,"t":270,"u":730,"c":"o"},{"a":120,"b":880,"t":415,"u":585,"c":"p"},{"a":145,"b":855,"t":438,"u":562,"c":"o"}]},
"concat":[
{"width":942,"height":857,"data":{"values":[{"cls":"Grease","n":26800},{"cls":"Plastic","n":20650},{"cls":"Treeroots","n":21530}]},"mark":{"type":"bar","color":"#1f77b4"},"encoding":{"x":{"field":"cls","type":"nominal","sort":null,"scale":{"range":[-23.5,967.5],"paddingInner":0.2,"paddingOuter":0.1},"axis":{"title":null,"labelAngle":-90,"labelAlign":"right","labelBaseline":"middle","labelFont":"DejaVu Sans Condensed, DejaVu Sans","labelFontSize":41,"tickSize":14,"tickWidth":4,"labelPadding":18}},"y":{"field":"n","type":"quantitative","scale":{"domain":[0,27645],"nice":false},"axis":{"values":[0,5000,10000,15000,20000,25000],"format":"d","offset":36,"tickSize":17,"tickWidth":2.5,"labelPadding":17,"title":"instances","titleFont":"DejaVu Sans Condensed, DejaVu Sans","titleFontSize":46,"titlePadding":25}}}},
{"width":948,"height":857,"layer":[
{"data":{"name":"glow"},"mark":{"type":"rect","cornerRadius":20},"encoding":{"x":{"field":"a","type":"quantitative","scale":{"domain":[0,1000],"range":[13,941],"nice":false},"axis":null},"x2":{"field":"b"},"y":{"field":"t","type":"quantitative","scale":{"domain":[0,1000],"range":[0,843],"nice":false},"axis":null},"y2":{"field":"u"},"fill":{"field":"g","type":"nominal","legend":null,"scale":{"domain":["a","b","c","d","e","f","h","i","j"],"range":["#fff6f2","#fde4d8","#fcd2be","#fcd8c8","#fcd8ca","#fcc7c2","#fde2e0","#fff0f0","#ffffff"]}}}},
{"data":{"name":"boxes"},"mark":{"type":"rect","fillOpacity":0,"strokeWidth":1.6,"strokeOpacity":0.5},"encoding":{"x":{"field":"a","type":"quantitative","scale":{"domain":[0,1000],"range":[13,941],"nice":false},"axis":null},"x2":{"field":"b"},"y":{"field":"t","type":"quantitative","scale":{"domain":[0,1000],"range":[0,843],"nice":false},"axis":null},"y2":{"field":"u"},"stroke":{"field":"c","type":"nominal","legend":null,"scale":{"domain":["o","p","r"],"range":["#fb9a6a","#f7908a","#f4544f"]}}}}
]},
{"width":942,"height":821,"layer":[
{"data":{"name":"xy"},"mark":{"type":"rect","strokeWidth":0.6},"encoding":{"x":{"field":"i","type":"quantitative","scale":{"domain":[0,50],"range":[8.5,933],"nice":false,"zero":false},"axis":null},"x2":{"field":"e"},"y":{"field":"j","type":"quantitative","scale":{"domain":[0,50],"range":[11,807],"nice":false,"zero":false},"axis":null},"y2":{"field":"k"},"fill":{"field":"c","type":"ordinal","legend":null,"scale":{"domain":[0,1,2,3,4,5,6,7,8,9],"range":["#ffffff","#abc8ef","#a6c6ef","#8bbdf2","#62aff6","#37a4f8","#2d90dd","#3a7cb8","#3e6a9b","#45546f"]}},"stroke":{"field":"c","type":"ordinal","legend":null,"scale":{"domain":[0,1,2,3,4,5,6,7,8,9],"range":["#ffffff","#abc8ef","#a6c6ef","#8bbdf2","#62aff6","#37a4f8","#2d90dd","#3a7cb8","#3e6a9b","#45546f"]}}}},
{"data":{"values":[{"x":0,"y":0},{"x":1,"y":1}]},"mark":{"type":"point","opacity":0},"encoding":{"x":{"field":"x","type":"quantitative","scale":{"domain":[0,1],"nice":false},"axis":{"orient":"bottom","values":[0,0.2,0.4,0.6,0.8,1],"format":".1f","offset":25,"tickSize":13,"tickWidth":4,"labelPadding":13,"title":"x","titleFont":"DejaVu Sans","titleFontSize":46,"titlePadding":8}},"y":{"field":"y","type":"quantitative","scale":{"domain":[-0.0049,1],"nice":false,"zero":false},"axis":{"orient":"left","values":[0,0.2,0.4,0.6,0.8,1],"format":".1f","offset":36,"tickSize":17,"tickWidth":2.5,"labelPadding":17,"title":"y","titleFont":"DejaVu Sans Condensed, DejaVu Sans","titleFontSize":46,"titlePadding":21}}}}
],"resolve":{"scale":{"x":"independent","y":"independent","fill":"independent","stroke":"independent"},"axis":{"x":"independent","y":"independent"}}},
{"width":948,"height":821,"layer":[
{"data":{"name":"wh"},"mark":{"type":"rect","strokeWidth":0.6},"encoding":{"x":{"field":"i","type":"quantitative","scale":{"domain":[0,50],"range":[15,938.5],"nice":false,"zero":false},"axis":null},"x2":{"field":"e"},"y":{"field":"j","type":"quantitative","scale":{"domain":[0,50],"range":[11,807],"nice":false,"zero":false},"axis":null},"y2":{"field":"k"},"fill":{"field":"c","type":"ordinal","legend":null,"scale":{"domain":[0,1,2,3,4,5,6,7,8,9],"range":["#ffffff","#abc8ef","#a6c6ef","#8bbdf2","#62aff6","#37a4f8","#2d90dd","#3a7cb8","#3e6a9b","#45546f"]}},"stroke":{"field":"c","type":"ordinal","legend":null,"scale":{"domain":[0,1,2,3,4,5,6,7,8,9],"range":["#ffffff","#abc8ef","#a6c6ef","#8bbdf2","#62aff6","#37a4f8","#2d90dd","#3a7cb8","#3e6a9b","#45546f"]}}}},
{"data":{"values":[{"x":0,"y":0},{"x":0.92,"y":1}]},"mark":{"type":"point","opacity":0},"encoding":{"x":{"field":"x","type":"quantitative","scale":{"domain":[0,0.92],"nice":false},"axis":{"orient":"bottom","values":[0,0.2,0.4,0.6,0.8],"format":".1f","offset":25,"tickSize":13,"tickWidth":4,"labelPadding":13,"title":"width","titleFont":"DejaVu Sans","titleFontSize":46,"titlePadding":8}},"y":{"field":"y","type":"quantitative","scale":{"domain":[0,1],"nice":false},"axis":{"orient":"left","values":[0,0.2,0.4,0.6,0.8,1],"format":".1f","offset":31,"tickSize":17,"tickWidth":2.5,"labelPadding":17,"title":"height","titleFont":"DejaVu Sans Condensed, DejaVu Sans","titleFontSize":46,"titlePadding":20}}}}
],"resolve":{"scale":{"x":"independent","y":"independent","fill":"independent","stroke":"independent"},"axis":{"x":"independent","y":"independent"}}}
]}
